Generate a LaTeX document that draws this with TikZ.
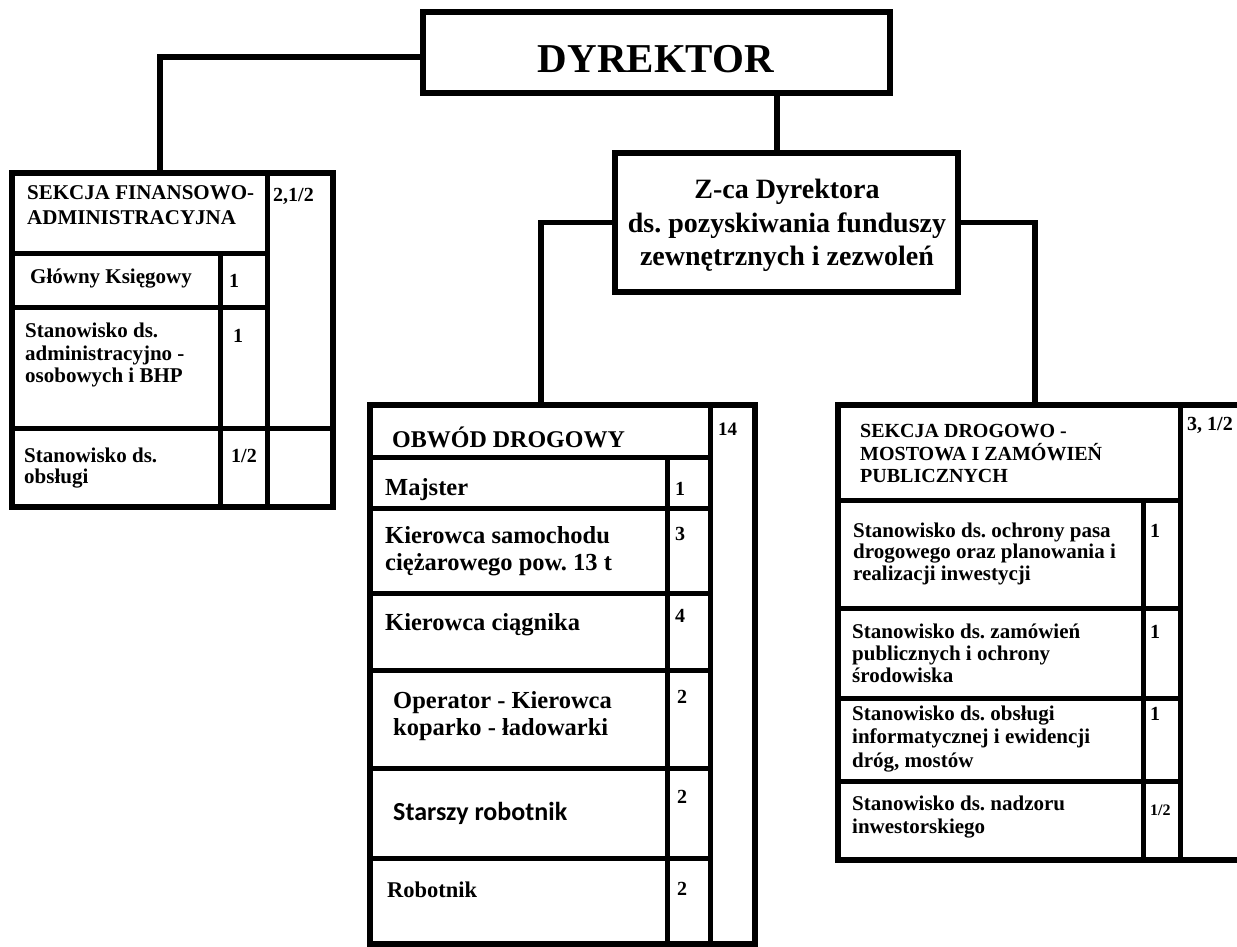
\documentclass[tikz,border=0pt]{standalone}
\usepackage{fontspec}
\setmainfont{Liberation Serif}
\newfontfamily\carlito{Carlito}
\usetikzlibrary{fit}
\frenchspacing
\begin{document}
\begin{tikzpicture}[x=1pt,y=-1pt,
  frame/.style={draw, line width=5.5pt, inner sep=0pt, outer sep=0pt},
  rule/.style={line width=5pt},
  conn/.style={line width=5.5pt},
  tl/.style={anchor=base west, inner sep=0pt, font=\bfseries\fontsize{21}{22}\selectfont},
  th/.style={anchor=base west, inner sep=0pt, font=\bfseries\fontsize{20}{22}\selectfont},
  tm/.style={anchor=base west, inner sep=0pt, font=\bfseries\fontsize{24.5}{27}\selectfont},
  num/.style={anchor=base west, inner sep=0pt, font=\bfseries\fontsize{20}{22}\selectfont},
  ctr/.style={anchor=base, inner sep=0pt, font=\bfseries\fontsize{28}{33}\selectfont}]
\useasboundingbox (0,0) rectangle (1237,947);
\fill[white] (0,0) rectangle (1237,947);

% main boxes
\node[frame, fit={(423,12) (890,93)}] (dyr) {};
\node[anchor=base, inner sep=0pt, font=\bfseries\fontsize{41}{45}\selectfont] (dyrt) at (656,73) {DYREKTOR};

\node[frame, fit={(615,153) (958,292)}] (zca) {};
\node[ctr] (z1) at (787,198) {Z-ca Dyrektora};
\node[ctr] (z2) at (787,232) {ds. pozyskiwania funduszy};
\node[ctr] (z3) at (787,265) {zewnętrznych i zezwoleń};

% section frames
\node[frame, fit={(12,173) (333,507)}] (fin) {};
\node[frame, fit={(370,405) (755,944)}] (obw) {};
\node[frame, fit={(838,405) (1262,860)}] (drog) {};

% connectors
\draw[conn] ([yshift=-4.5pt]dyr.west) -| ([xshift=148pt]fin.north west);
\draw[conn] ([xshift=-9.5pt]zca.north) -- ([xshift=-9.5pt]zca.north |- dyr.south);
\draw[conn] (zca.west) -| ([xshift=171pt]obw.north west);
\draw[conn] (zca.east) -| ([xshift=197pt]drog.north west);

% left section grid
\draw[rule] (267,173) -- (267,507);
\draw[rule] (12,253) -- (267,253);
\draw[rule] (220,253) -- (220,507);
\draw[rule] (12,307) -- (267,307);
\draw[rule] (12,428) -- (333,428);

\node[tl] (fa) at (27,200) {SEKCJA FINANSOWO-};
\node[tl] (fb) at (27,224) {ADMINISTRACYJNA};
\node[num] (fn0) at (273,201) {2,1/2};
\node[tl] (fc) at (30,283) {Główny Księgowy};
\node[num] (fn1) at (229,287) {1};
\node[tl] (fd) at (25,337) {Stanowisko ds.};
\node[tl] (fe) at (25,360) {administracyjno -};
\node[tl] (ff) at (25,382) {osobowych i BHP};
\node[num] (fn2) at (233,342) {1};
\node[tl] (fg) at (24,462) {Stanowisko ds.};
\node[tl] (fh) at (24,483) {obsługi};
\node[num] (fn3) at (231,462) {1/2};

% middle section grid
\draw[rule] (710,405) -- (710,944);
\draw[rule] (370,457) -- (710,457);
\draw[rule] (667,457) -- (667,944);
\foreach \yy in {508,593,670,768,858} \draw[rule] (370,\yy) -- (710,\yy);

\node[tm, font=\bfseries\fontsize{24}{27}\selectfont] (oa) at (392,447) {OBWÓD DROGOWY};
\node[num, font=\bfseries\fontsize{19}{22}\selectfont] (on0) at (718,435) {14};
\node[tm] (ob) at (385,495) {Majster};
\node[num] (on1) at (675,495) {1};
\node[tm] (oc) at (385,543) {Kierowca samochodu};
\node[tm] (od) at (385,570) {ciężarowego pow. 13 t};
\node[num] (on2) at (675,540) {3};
\node[tm] (oe) at (385,630) {Kierowca ciągnika};
\node[num] (on3) at (675,622) {4};
\node[tm] (of) at (393,708) {Operator - Kierowca};
\node[tm] (og) at (393,735) {koparko - ładowarki};
\node[num] (on4) at (677,703) {2};
\node[anchor=base west, inner sep=0pt, font=\carlito\bfseries\fontsize{26}{28}\selectfont] (oh) at (393,820) {Starszy robotnik};
\node[num] (on5) at (677,803) {2};
\node[tm, font=\bfseries\fontsize{22.5}{25}\selectfont] (oi) at (387,897) {Robotnik};
\node[num] (on6) at (677,895) {2};

% right section grid
\draw[rule] (1180,405) -- (1180,860);
\draw[rule] (838,500) -- (1180,500);
\draw[rule] (1143,500) -- (1143,860);
\foreach \yy in {608,698,781} \draw[rule] (838,\yy) -- (1180,\yy);

\node[th] (ra) at (860,437) {SEKCJA DROGOWO -};
\node[th] (rb) at (860,460) {MOSTOWA I ZAMÓWIEŃ};
\node[th] (rc) at (860,482) {PUBLICZNYCH};
\node[num] (rn0) at (1187,430) {3, 1/2};
\node[tl] (rd) at (853,537) {Stanowisko ds. ochrony pasa};
\node[tl] (re) at (853,558) {drogowego oraz planowania i};
\node[tl] (rf) at (853,580) {realizacji inwestycji};
\node[num] (rn1) at (1150,537) {1};
\node[tl] (rg) at (852,638) {Stanowisko ds. zamówień};
\node[tl] (rh) at (852,660) {publicznych i ochrony};
\node[tl] (ri) at (852,682) {środowiska};
\node[num] (rn2) at (1150,638) {1};
\node[tl] (rj) at (852,720) {Stanowisko ds. obsługi};
\node[tl] (rk) at (852,743) {informatycznej i ewidencji};
\node[tl] (rl) at (852,767) {dróg, mostów};
\node[num] (rn3) at (1150,720) {1};
\node[tl] (rm) at (852,810) {Stanowisko ds. nadzoru};
\node[tl] (rnn) at (852,833) {inwestorskiego};
\node[num, font=\bfseries\fontsize{16}{18}\selectfont] (rn4) at (1150,815) {1/2};
\end{tikzpicture}
\end{document}
